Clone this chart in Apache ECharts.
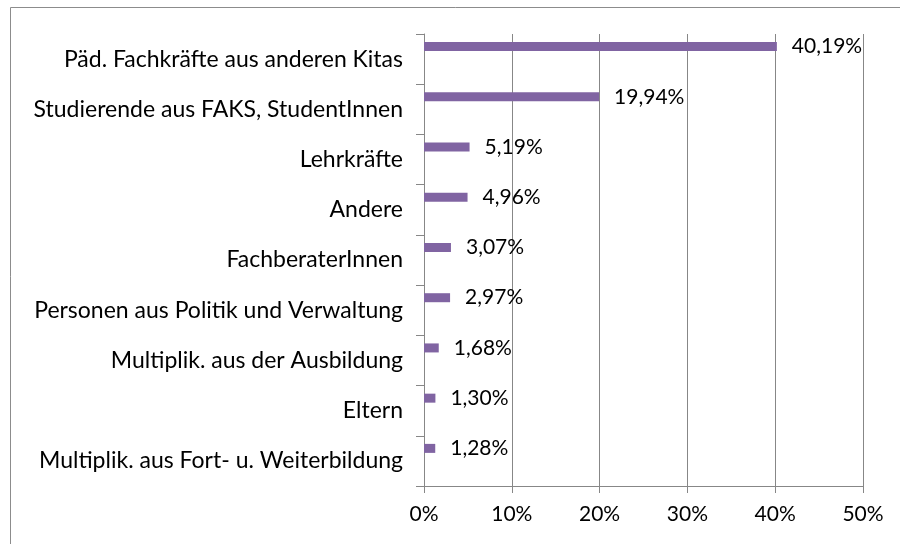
<!DOCTYPE html>
<html>
<head>
<meta charset="utf-8">
<script src="https://cdn.jsdelivr.net/npm/echarts@6/dist/echarts.min.js"></script>
<style>
  html, body { margin: 0; padding: 0; background: #fff; }
  #chart { width: 900px; height: 544px; }
</style>
</head>
<body>
<div id="chart"></div>
<script>
// Kategorien von oben nach unten
const categories = [
  'Päd. Fachkräfte aus anderen Kitas',
  'Studierende aus FAKS, StudentInnen',
  'Lehrkräfte',
  'Andere',
  'FachberaterInnen',
  'Personen aus Politik und Verwaltung',
  'Multiplik. aus der Ausbildung',
  'Eltern',
  'Multiplik. aus Fort- u. Weiterbildung'
]
const shares = [40.19, 19.94, 5.19, 4.96, 3.07, 2.97, 1.68, 1.30, 1.28]
const axisTicks = [0, 10, 20, 30, 40, 50]

const font = 'Lato, "Open Sans", sans-serif'
const axisColor = '#878787'

const chart = echarts.init(document.getElementById('chart'))

const option = {
  animation: false,
  textStyle: { fontFamily: font },
  graphic: [
    {
      type: 'rect',
      shape: { x: 10.5, y: 7.5, width: 1000, height: 1000 },
      style: { fill: 'none', stroke: '#8c8c8c', lineWidth: 1 }
    }
  ],
  grid: { left: 424, right: 37, top: 34, bottom: 58 },
  xAxis: {
    type: 'value',
    min: axisTicks[0],
    max: axisTicks[axisTicks.length - 1],
    interval: 10,
    axisLine: { show: true, lineStyle: { color: axisColor } },
    axisTick: { show: true, length: 7, lineStyle: { color: axisColor } },
    splitLine: { show: true, lineStyle: { color: axisColor } },
    axisLabel: {
      color: '#000',
      fontSize: 21,
      fontFamily: font,
      margin: 18,
      formatter: v => v + '%'
    }
  },
  yAxis: {
    type: 'category',
    inverse: true,
    data: categories,
    axisLine: { show: true, lineStyle: { color: axisColor } },
    axisTick: { show: true, length: 8, lineStyle: { color: axisColor } },
    axisLabel: { color: '#000', fontSize: 23, fontFamily: font, margin: 21 }
  },
  series: [
    {
      type: 'bar',
      data: shares,
      barWidth: 9,
      barGap: '178%',
      itemStyle: { color: '#8064A2' },
      label: {
        show: true,
        position: 'right',
        distance: 15,
        color: '#000',
        fontSize: 21,
        fontFamily: font,
        formatter: p => p.value.toFixed(2).replace('.', ',') + '%'
      }
    },
    {
      type: 'bar',
      data: categories.map(() => '-'),
      barWidth: 9
    }
  ]
}

chart.setOption(option)
</script>
</body>
</html>
